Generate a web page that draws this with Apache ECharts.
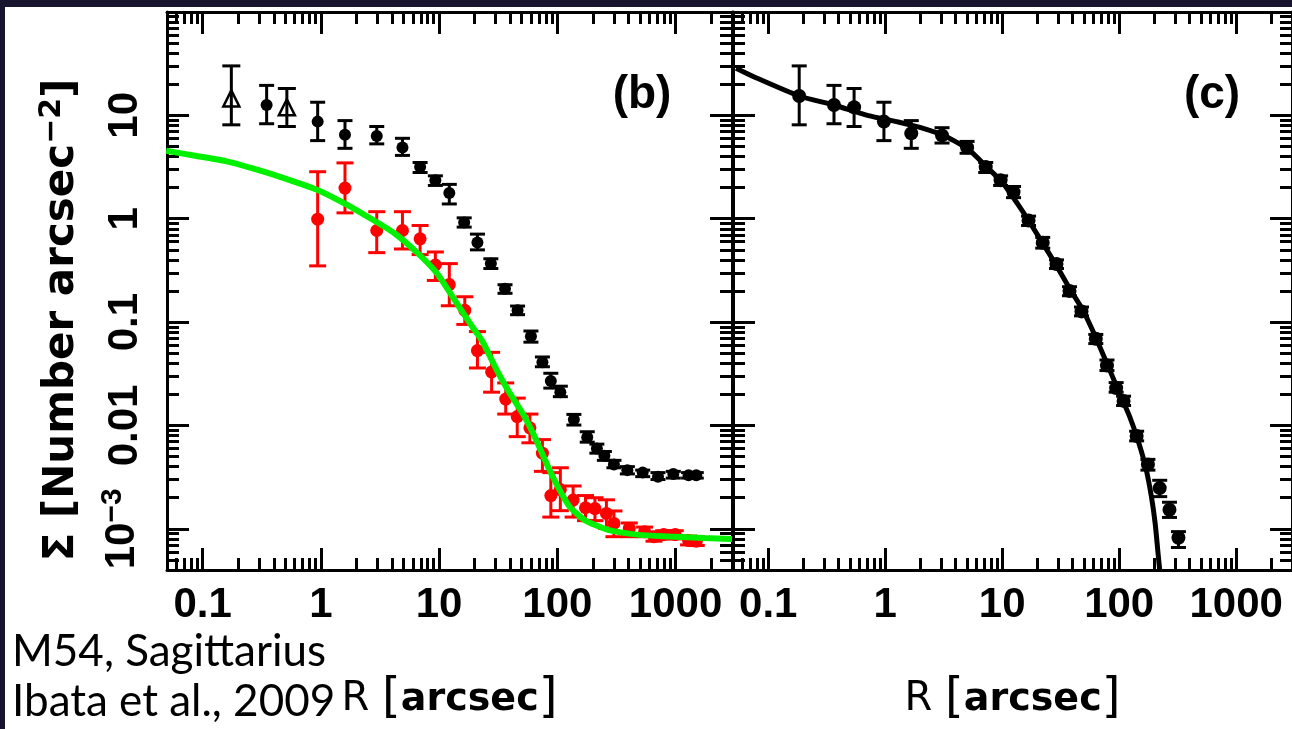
<!DOCTYPE html>
<html><head><meta charset="utf-8">
<script src="https://cdn.jsdelivr.net/npm/echarts@6/dist/echarts.min.js"></script>
<style>html,body{margin:0;padding:0;background:#18142e;}#c{width:1292px;height:729px;}</style>
</head><body><div id="c"></div>
<script>
// ---- tick values ----
const majorX = [0.1, 1, 10, 100, 1000];
const minorX = [0.05, 0.06, 0.07, 0.08, 0.09, 0.2, 0.3, 0.4, 0.5, 0.6, 0.7, 0.8, 0.9,
  2, 3, 4, 5, 6, 7, 8, 9, 20, 30, 40, 50, 60, 70, 80, 90,
  200, 300, 400, 500, 600, 700, 800, 900, 2000, 3000];
const majorY = [0.001, 0.01, 0.1, 1, 10, 100];
const labelY = [0.001, 0.01, 0.1, 1, 10];
const minorY = [0.0004, 0.0005, 0.0006, 0.0007, 0.0008, 0.0009,
  0.002, 0.003, 0.004, 0.005, 0.006, 0.007, 0.008, 0.009,
  0.02, 0.03, 0.04, 0.05, 0.06, 0.07, 0.08, 0.09,
  0.2, 0.3, 0.4, 0.5, 0.6, 0.7, 0.8, 0.9,
  2, 3, 4, 5, 6, 7, 8, 9, 20, 30, 40, 50, 60, 70, 80, 90];

// ---- panel (b) data: [R, Sigma, lower, upper] ----
const openB = [
  [0.175, 14.6, 8.1, 30.1],
  [0.516, 12.0, 7.8, 18.2]
];
const blackB = [
  [0.348, 12.6, 8.3, 19.5],
  [0.94, 8.7, 5.7, 13.4],
  [1.60, 6.5, 4.8, 8.9],
  [2.97, 6.3, 5.3, 7.8],
  [4.90, 4.9, 4.1, 6.0],
  [6.91, 3.16, 2.8, 3.5],
  [9.30, 2.36, 2.1, 2.6],
  [12.2, 1.77, 1.39, 2.15],
  [16.3, 0.92, 0.83, 1.02],
  [21.1, 0.59, 0.50, 0.71],
  [27.4, 0.37, 0.33, 0.41],
  [36.1, 0.21, 0.19, 0.23],
  [46.1, 0.130, 0.118, 0.143],
  [59.8, 0.073, 0.064, 0.082],
  [74.8, 0.041, 0.037, 0.046],
  [88.1, 0.027, 0.023, 0.032],
  [106, 0.021, 0.019, 0.024],
  [138, 0.0114, 0.0101, 0.0128],
  [179, 0.0077, 0.0069, 0.0087],
  [216, 0.0060, 0.0054, 0.0066],
  [250, 0.0051, 0.0046, 0.0056],
  [301, 0.0042, 0.0039, 0.0046],
  [391, 0.0037, 0.0034, 0.0040],
  [527, 0.0035, 0.0032, 0.0037],
  [710, 0.0032, 0.0030, 0.0035],
  [957, 0.0034, 0.0031, 0.0036],
  [1288, 0.0033, 0.0031, 0.0035],
  [1496, 0.0033, 0.0031, 0.0035]
];
const redB = [
  [0.94, 0.99, 0.35, 2.85],
  [1.60, 1.98, 1.14, 3.47],
  [2.97, 0.77, 0.47, 1.17],
  [4.90, 0.77, 0.51, 1.17],
  [6.91, 0.64, 0.45, 0.86],
  [9.30, 0.357, 0.253, 0.477],
  [12.2, 0.231, 0.144, 0.368],
  [16.5, 0.130, 0.095, 0.176],
  [21.1, 0.053, 0.036, 0.081],
  [27.8, 0.033, 0.021, 0.051],
  [36.6, 0.018, 0.0129, 0.0258],
  [45.8, 0.0122, 0.0078, 0.0184],
  [58.6, 0.0095, 0.0068, 0.0129],
  [74.8, 0.0054, 0.0036, 0.0073],
  [88.1, 0.0021, 0.0013, 0.0035],
  [106, 0.0024, 0.0015, 0.0039],
  [136, 0.0019, 0.0013, 0.0026],
  [173, 0.0016, 0.0012, 0.0021],
  [208, 0.00157, 0.0012, 0.0020],
  [260, 0.00141, 0.00101, 0.00191],
  [301, 0.00113, 0.00084, 0.00149],
  [406, 0.00101, 0.00084, 0.00114],
  [547, 0.00094, 0.00084, 0.00104],
  [657, 0.00084, 0.00076, 0.00093],
  [793, 0.00088, 0.00080, 0.00096],
  [993, 0.00088, 0.00080, 0.00096],
  [1288, 0.00077, 0.00070, 0.00085],
  [1496, 0.00076, 0.00069, 0.00084]
];
const modelB = [
  [0.0492, 4.54], [0.0866, 4.07], [0.157, 3.61], [0.284, 3.0], [0.517, 2.42],
  [0.938, 1.90], [1.70, 1.35], [2.66, 1.0], [4.17, 0.728], [6.52, 0.470],
  [9.43, 0.304], [12.2, 0.197], [18.5, 0.0951], [23.1, 0.066], [30.9, 0.034],
  [38.8, 0.0214], [52.3, 0.01244], [65.5, 0.00746], [81.9, 0.00418], [102, 0.00251],
  [128, 0.00162], [172, 0.00121], [268, 0.000977], [491, 0.000875], [888, 0.000843],
  [1738, 0.000814], [3000, 0.000797]
];

// ---- panel (c) data ----
const blackC = [
  [0.184, 15.4, 8.1, 30.1],
  [0.365, 12.6, 8.3, 19.5],
  [0.542, 12.0, 7.8, 18.2],
  [0.975, 8.7, 5.7, 13.4],
  [1.67, 6.7, 4.8, 8.9],
  [3.06, 6.4, 5.4, 7.6],
  [5.01, 4.9, 4.3, 5.6],
  [7.23, 3.16, 2.8, 3.5],
  [9.69, 2.36, 2.1, 2.6],
  [12.5, 1.81, 1.6, 2.05],
  [16.8, 0.96, 0.86, 1.06],
  [22.2, 0.585, 0.52, 0.66],
  [29.1, 0.365, 0.33, 0.40],
  [37.6, 0.20, 0.18, 0.22],
  [47.6, 0.127, 0.115, 0.14],
  [63.1, 0.069, 0.062, 0.076],
  [78.6, 0.038, 0.034, 0.043],
  [94.2, 0.023, 0.021, 0.026],
  [109, 0.0173, 0.0156, 0.0192],
  [141, 0.0079, 0.0071, 0.0088],
  [176, 0.0042, 0.0037, 0.0047],
  [222, 0.00248, 0.00205, 0.00295],
  [269, 0.00153, 0.00129, 0.00181],
  [321, 0.00082, 0.00066, 0.00094]
];
const modelC = [
  [0.0531, 28.6], [0.0794, 23.0], [0.184, 15.4], [0.364, 12.6], [0.718, 9.96],
  [1.29, 8.62], [2.15, 7.45], [3.33, 6.22], [5.19, 4.65], [7.50, 3.11],
  [10.07, 2.24], [13.5, 1.40], [17.4, 0.904], [22.5, 0.565], [29.1, 0.352],
  [37.6, 0.212], [48.7, 0.132], [63.1, 0.0711], [78.6, 0.0397], [97.8, 0.0222],
  [122, 0.01245], [146, 0.00695], [169, 0.00388], [189, 0.00202], [203, 0.00113],
  [216, 0.000546], [222, 0.0004]
];

// ---- build chart ----
const FONT = '"Liberation Sans", Arial, sans-serif';
const TFONT = '"DejaVu Sans", sans-serif';
const X_MIN = 0.05, X_MAX = 3000, Y_MIN = 0.0004, Y_MAX = 100;
const MAJ = 22, MIN = 12, LW = 3;

function xAx(g, pos, vals, len, showLine, labels) {
  return {
    gridIndex: g, type: 'log', position: pos, min: X_MIN, max: X_MAX,
    axisLine: { show: showLine, onZero: false, lineStyle: { color: '#000', width: LW } },
    axisTick: { show: true, inside: true, length: len, customValues: vals, lineStyle: { color: '#000', width: LW } },
    axisLabel: labels ? {
      show: true, customValues: majorX, margin: 14, color: '#000',
      fontFamily: FONT, fontSize: 42, fontWeight: 'bold',
      formatter: v => String(+v.toPrecision(3))
    } : { show: false },
    splitLine: { show: false }, minorTick: { show: false },
    name: labels ? '{r|R }{b|[}{t|arcsec}{b|]}' : '',
    nameLocation: 'middle', nameGap: 106,
    nameTextStyle: {
      color: '#000', fontFamily: TFONT, fontSize: 38,
      rich: {
        r: { fontSize: 40, fontFamily: TFONT, fontWeight: 'normal', color: '#000' },
        t: { fontSize: 38, fontFamily: TFONT, fontWeight: 'bold', color: '#000' },
        b: { fontSize: 48, fontFamily: TFONT, fontWeight: 'normal', color: '#000' }
      }
    }
  };
}
function yAx(g, pos, vals, len, showLine, labels) {
  return {
    gridIndex: g, type: 'log', position: pos, min: Y_MIN, max: Y_MAX,
    axisLine: { show: showLine, onZero: false, lineStyle: { color: '#000', width: LW } },
    axisTick: { show: true, inside: true, length: len, customValues: vals, lineStyle: { color: '#000', width: LW } },
    axisLabel: labels ? {
      show: true, customValues: labelY, margin: 21, rotate: 90, color: '#000',
      formatter: v => (v < 0.005 ? '{a|10}{s|−3}' : '{a|' + String(+v.toPrecision(3)) + '}'),
      rich: {
        a: { fontFamily: FONT, fontSize: 42, fontWeight: 'bold', color: '#000' },
        s: { fontFamily: FONT, fontSize: 30, fontWeight: 'bold', color: '#000', verticalAlign: 'top', padding: [0, 0, 18, 0] }
      }
    } : { show: false },
    splitLine: { show: false }, minorTick: { show: false }
  };
}

const xAxes = [], yAxes = [];
[0, 1].forEach(g => {
  xAxes.push(xAx(g, 'bottom', majorX, MAJ, true, true));
  xAxes.push(xAx(g, 'bottom', minorX, MIN, false, false));
  xAxes.push(xAx(g, 'top', majorX, MAJ, true, false));
  xAxes.push(xAx(g, 'top', minorX, MIN, false, false));
  yAxes.push(yAx(g, 'left', majorY, MAJ, true, g === 0));
  yAxes.push(yAx(g, 'left', minorY, MIN, false, false));
  yAxes.push(yAx(g, 'right', majorY, MAJ, true, false));
  yAxes.push(yAx(g, 'right', minorY, MIN, false, false));
});

function errSeries(data, color, cap, g, z) {
  return {
    type: 'custom', xAxisIndex: g * 4, yAxisIndex: g * 4, z: z,
    encode: { x: 0, y: [1, 2, 3] },
    data: data,
    renderItem: function (params, api) {
      const x = api.value(0);
      const p1 = api.coord([x, api.value(2)]);
      const p2 = api.coord([x, api.value(3)]);
      const st = { stroke: color, lineWidth: 3 };
      return {
        type: 'group', children: [
          { type: 'line', shape: { x1: p1[0], y1: p1[1], x2: p2[0], y2: p2[1] }, style: st },
          { type: 'line', shape: { x1: p1[0] - cap / 2, y1: p1[1], x2: p1[0] + cap / 2, y2: p1[1] }, style: st },
          { type: 'line', shape: { x1: p2[0] - cap / 2, y1: p2[1], x2: p2[0] + cap / 2, y2: p2[1] }, style: st }
        ]
      };
    }
  };
}
function pts(data, g, symbol, size, fill, border, z) {
  return {
    type: 'scatter', xAxisIndex: g * 4, yAxisIndex: g * 4, z: z,
    data: data.map(d => [d[0], d[1]]), symbol: symbol, symbolSize: size,
    itemStyle: { color: fill, borderColor: border, borderWidth: border === 'none' ? 0 : 2.5, opacity: 1 }
  };
}

const series = [
  errSeries(redB, '#ff0000', 17, 0, 3),
  pts(redB, 0, 'circle', 13, '#ff0000', 'none', 4),
  {
    type: 'line', xAxisIndex: 0, yAxisIndex: 0, z: 5, data: modelB, showSymbol: false,
    smooth: 0.2, lineStyle: { color: '#00f000', width: 6 }
  },
  errSeries(blackB, '#000', 15, 0, 6),
  errSeries(openB, '#000', 18, 0, 6),
  pts(blackB, 0, 'circle', 12, '#000', 'none', 7),
  pts(openB, 0, 'triangle', 16, 'rgba(255,255,255,0)', '#000', 7),
  {
    type: 'line', xAxisIndex: 4, yAxisIndex: 4, z: 5, data: modelC, showSymbol: false,
    smooth: 0.2, lineStyle: { color: '#000', width: 5 }
  },
  errSeries(blackC, '#000', 15, 1, 6),
  pts(blackC, 1, 'circle', 14, '#000', 'none', 7)
];

const chart = echarts.init(document.getElementById('c'), null, { renderer: 'canvas' });
chart.setOption({
  animation: false,
  backgroundColor: '#18142e',
  textStyle: { fontFamily: FONT },
  grid: [
    { left: 167, top: 12, width: 565, height: 568 },
    { left: 733, top: 12, width: 566, height: 568 }
  ],
  xAxis: xAxes,
  yAxis: yAxes,
  series: series,
  graphic: [
    { type: 'rect', z: -100, silent: true, shape: { x: 5, y: 7, width: 1287, height: 722 }, style: { fill: '#ffffff' } },
    { type: 'text', x: 642, y: 95, z: 10, style: { text: '(b)', fontFamily: FONT, fontSize: 46, fontWeight: 'bold', fill: '#000', align: 'center', verticalAlign: 'middle' } },
    { type: 'text', x: 1212, y: 95, z: 10, style: { text: '(c)', fontFamily: FONT, fontSize: 46, fontWeight: 'bold', fill: '#000', align: 'center', verticalAlign: 'middle' } },
    {
      type: 'text', x: 62, y: 320, rotation: Math.PI / 2, z: 10,
      style: {
        text: '{t|Σ [Number arcsec}{s|−2}{t|]}', align: 'center', verticalAlign: 'middle',
        rich: {
          t: { fontFamily: TFONT, fontSize: 42, fontWeight: 'bold', fill: '#000', color: '#000' },
          s: { fontFamily: TFONT, fontSize: 30, fontWeight: 'bold', fill: '#000', color: '#000', verticalAlign: 'top', padding: [0, 0, 20, 0] }
        }
      }
    },
    { type: 'text', x: 12, y: 652, z: 10, style: { text: 'M54, Sagittarius', fontFamily: 'Lato, "Open Sans", sans-serif', fontSize: 44, fill: '#000', align: 'left', verticalAlign: 'middle' } },
    { type: 'text', x: 12, y: 702, z: 10, style: { text: 'Ibata et al., 2009', fontFamily: 'Lato, "Open Sans", sans-serif', fontSize: 44, fill: '#000', align: 'left', verticalAlign: 'middle' } }
  ]
});
</script></body></html>
